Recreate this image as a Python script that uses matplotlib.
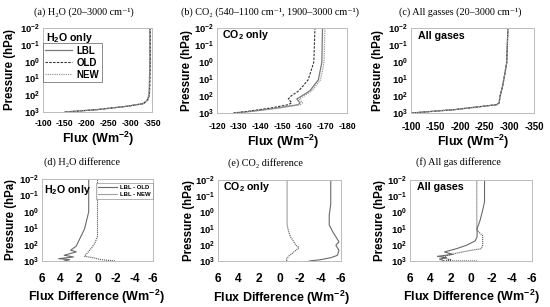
import matplotlib
matplotlib.use('Agg')
import matplotlib.pyplot as plt
from matplotlib.ticker import FixedLocator, NullLocator

plt.rcParams['axes.unicode_minus'] = False
plt.rcParams['font.family'] = ['Liberation Sans', 'DejaVu Sans']
plt.rcParams['font.weight'] = 'bold'

# ---------------- data ----------------
# (a) H2O only fluxes
p_a = [1000, 724, 457, 316, 200, 100, 32, 1, 0.01]
a_lbl = [-150, -223, -292, -330, -339, -343, -344, -345, -345]
a_old = [-151, -224, -293, -331, -340, -344, -345, -346, -346]
a_new = [-150, -223, -292, -330, -339, -343, -344, -345, -345]

# (b) CO2 only fluxes
p_b = [1000, 790, 500, 323, 250, 150, 100, 49, 11, 1, 0.01]
b_old = [-127.5, -134.5, -145.2, -152.9, -154.5, -152.9, -154.2, -157.8, -162.1, -164.7, -165.2]
b_lbl = [-128.3, -136.0, -148.3, -157.6, -158.3, -156.8, -159.1, -162.9, -166.8, -168.4, -168.7]
b_new = [-128.5, -136.5, -149.0, -158.5, -159.5, -158.0, -160.2, -163.8, -167.8, -169.4, -169.8]

# (c) All gases fluxes
p_c = [1000, 630, 325, 257, 105, 27, 4.5, 1.1, 0.01]
c_lbl = [-101, -189, -274, -279, -281, -286, -291, -294.5, -297]
c_old = [-101, -189, -274, -279, -281, -286, -291, -294.5, -297]
c_new = [-101, -189, -274, -279, -281, -286, -291, -294.5, -297]

# (d) H2O differences
p_d1 = [1000, 830, 720, 565, 445, 277, 218, 123, 11, 1, 0.01]
d_lbl_old = [3.6, 3.0, 4.2, 2.6, 3.6, 2.3, 2.9, 2.3, 1.4, 0.95, 0.95]
p_d2 = [1000, 830, 630, 513, 355, 174, 85, 32, 1, 0.01]
d_lbl_new = [-1.9, -0.4, 0.5, 1.4, 1.15, 0.7, 0.3, 0.0, 0.0, 0.0]

# (e) CO2 differences
p_e1 = [1000, 830, 630, 447, 219, 107, 66, 32, 16, 6, 1.5, 0.3, 0.01]
e_lbl_old = [-2.9, -4.0, -5.0, -5.65, -5.8, -5.5, -5.8, -5.5, -5.2, -4.85, -4.85, -5.0, -5.0]
p_e2 = [1000, 830, 500, 280, 150, 107, 66, 32, 16, 6, 0.01]
e_lbl_new = [-0.74, -0.65, -0.9, -1.4, -1.9, -1.6, -1.4, -1.07, -0.9, -0.74, -0.74]

# (f) All gas differences
p_f1 = [1000, 760, 630, 513, 390, 275, 174, 107, 58, 32, 10, 3, 0.72, 0.22, 0.01]
f_lbl_old = [2.6, 3.1, 2.4, 3.3, 1.8, 2.6, 1.43, 0.45, -0.4, -0.6, -0.6, -0.9, -1.15, -1.33, -1.33]
p_f2 = [1000, 980, 830, 630, 447, 316, 219, 174, 107, 52, 27, 16, 12, 0.01]
f_lbl_new = [-0.6, 2.5, 2.0, 2.8, 2.3, 1.3, 0.0, -1.0, -1.15, -1.15, -1.15, -0.74, -0.57, -0.57]

titles = ['(a) H\u2082O (20\u20133000 cm\u207b\u00b9)',
          '(b) CO\u2082 (540\u20131100 cm\u207b\u00b9, 1900\u20133000 cm\u207b\u00b9)',
          '(c) All gasses (20\u20133000 cm\u207b\u00b9)',
          '(d) H\u2082O difference',
          '(e) CO\u2082 difference',
          '(f) All gas difference']
tags = ['H$_\\mathdefault{2}$O only', 'CO$_\\mathdefault{2}$ only', 'All gases',
        'H$_\\mathdefault{2}$O only', 'CO$_\\mathdefault{2}$ only', 'All gases']
flux_label = 'Flux (Wm$^\\mathdefault{-2}$)'
diff_label = 'Flux Difference (Wm$^\\mathdefault{-2}$)'
y_label = 'Pressure (hPa)'
xt_a = [-100, -150, -200, -250, -300, -350]
xt_b = [-120, -130, -140, -150, -160, -170, -180]
xt_d = [6, 4, 2, 0, -2, -4, -6]
yt = [1e-2, 1e-1, 1e0, 1e1, 1e2, 1e3]

# ---------------- figure ----------------
W, H = 550, 307
fig = plt.figure(figsize=(5.5, 3.07), dpi=100)


def box(x0, y0, x1, y1):
    return [x0 / W, 1 - y1 / H, (x1 - x0) / W, (y1 - y0) / H]


boxes = [box(43, 28, 152, 112), box(217, 28, 347, 113), box(411, 28, 534, 113),
         box(42, 179, 153, 261), box(218, 180, 341, 261), box(410, 180, 532, 261)]
xlims = [(-100, -350), (-120, -180), (-100, -350), (6, -6), (6, -6), (6, -6)]
xticks = [xt_a, xt_b, xt_a, xt_d, xt_d, xt_d]
xpads = [5.0, 6.5, 6.5, 8.5, 8.5, 8.5]
xlsize = [6.3, 6.3, 7.0, 8.6, 8.6, 8.6]

axes = []
for i in range(6):
    ax = fig.add_axes(boxes[i])
    ax.set_yscale('log')
    ax.set_ylim(1e3, 1e-2)
    ax.set_xlim(*xlims[i])
    ax.xaxis.set_major_locator(FixedLocator(xticks[i]))
    ax.yaxis.set_major_locator(FixedLocator(yt))
    ax.yaxis.set_minor_locator(NullLocator())
    ax.tick_params(axis='both', length=0)
    ax.tick_params(axis='x', labelsize=xlsize[i], pad=xpads[i])
    ax.tick_params(axis='y', labelsize=6.8, pad=2)
    for lab in ax.get_xticklabels() + ax.get_yticklabels():
        lab.set_fontweight('bold')
    for s in ax.spines.values():
        s.set_color('#bbbbbb')
        s.set_linewidth(0.7)
    axes.append(ax)

lbl_kw = dict(color='#7a7a7a', lw=0.9, ls='-')
old_kw = dict(color='#333333', lw=0.8, ls=(0, (2.2, 1.2)))
new_kw = dict(color='#9a9a9a', lw=0.9, ls=(0, (1, 0.8)))

# top row
for ax, p, lbl, old, new in [(axes[0], p_a, a_lbl, a_old, a_new),
                              (axes[1], p_b, b_lbl, b_old, b_new),
                              (axes[2], p_c, c_lbl, c_old, c_new)]:
    ax.plot(lbl, p, **lbl_kw, label='LBL')
    ax.plot(old, p, **old_kw, label='OLD')
    ax.plot(new, p, **new_kw, label='NEW')

leg = axes[0].legend(loc='upper left', bbox_to_anchor=(0.0, 0.82), prop={'weight': 'bold', 'size': 7},
                     frameon=True, fancybox=False, edgecolor='#555555', borderpad=0.25,
                     labelspacing=0.22, handlelength=2.7, handletextpad=0.5, borderaxespad=0)
leg.get_frame().set_linewidth(0.6)

# bottom row
d_old_kw = dict(color='#6a6a6a', lw=0.8, ls='-')
d_new_kw = dict(color='#555555', lw=0.8, ls=(0, (1, 0.8)))
for ax, p1, v1, p2, v2 in [(axes[3], p_d1, d_lbl_old, p_d2, d_lbl_new),
                            (axes[4], p_e1, e_lbl_old, p_e2, e_lbl_new),
                            (axes[5], p_f1, f_lbl_old, p_f2, f_lbl_new)]:
    ax.plot(v1, p1, **d_old_kw, label='LBL - OLD')
    ax.plot(v2, p2, **d_new_kw, label='LBL - NEW')

leg2 = axes[3].legend(loc='upper right', bbox_to_anchor=(1.0, 0.955), prop={'weight': 'bold', 'size': 4.3},
                      frameon=True, fancybox=False, edgecolor='#777777', borderpad=0.35,
                      labelspacing=0.3, handlelength=3.2, handletextpad=0.6, borderaxespad=0)
leg2.get_frame().set_linewidth(0.5)

# texts
def ftext(x, y, s, **kw):
    fig.text(x / W, 1 - y / H, s, **kw)

title_pos = [(84, 12), (270, 12), (460, 12), (82, 162), (265, 163), (458, 162)]
for (x, y), t in zip(title_pos, titles):
    ftext(x, y, t, ha='center', va='center', fontsize=7.3, fontweight='normal',
          family=['Liberation Serif', 'DejaVu Serif'])

tag_pos = [(46, 38), (222, 35), (418, 36), (44, 190), (223, 187), (417, 187)]
for (x, y), t in zip(tag_pos, tags):
    ftext(x, y, t, ha='left', va='center', fontsize=7.7, fontweight='bold')

ylab_x = [10, 187, 378, 11, 189, 380]
for i, x in enumerate(ylab_x):
    b = boxes[i]
    yc = (1 - (b[1] + b[3] / 2)) * H
    ftext(x, yc, y_label, rotation=90, ha='center', va='center', fontsize=8.3, fontweight='bold')

xlab_pos = [(98, 139), (283, 142), (473, 142)]
for x, y in xlab_pos:
    ftext(x, y, flux_label, ha='center', va='center', fontsize=9, fontweight='bold')
xlab2_pos = [(96, 297), (281, 298), (471, 297)]
for x, y in xlab2_pos:
    ftext(x, y, diff_label, ha='center', va='center', fontsize=9, fontweight='bold')

fig.savefig('out.png', dpi=100)
